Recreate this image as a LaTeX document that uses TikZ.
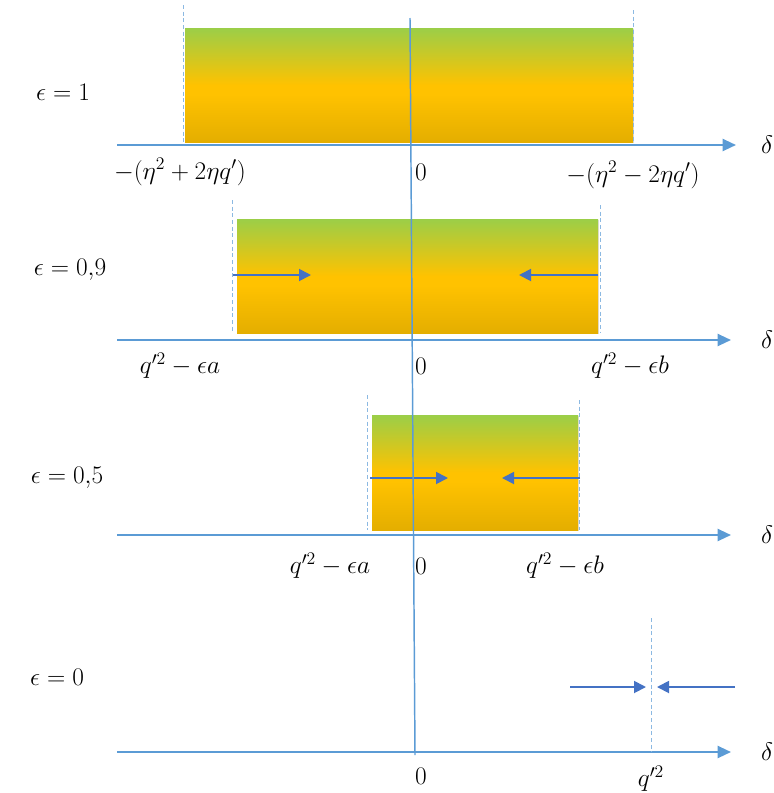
\RequirePackage{fix-cm}
\documentclass[tikz,border=0pt]{standalone}
\usepackage{amsmath}
\usetikzlibrary{arrows.meta, positioning, shadings, shadows}
\definecolor{axblue}{RGB}{91,155,213}
\definecolor{arrblue}{RGB}{68,114,196}
\definecolor{bandgreen}{RGB}{155,206,72}
\definecolor{bandgold}{RGB}{255,194,0}
\definecolor{banddark}{RGB}{228,174,0}
\pgfdeclareverticalshading{bandshade}{100bp}{color(0bp)=(banddark); color(25bp)=(banddark); color(46bp)=(bandgold); color(50bp)=(bandgold); color(75bp)=(bandgreen); color(100bp)=(bandgreen)}

\begin{document}
\begin{tikzpicture}[x=0.75pt, y=-0.75pt,
    axis/.style={-{Triangle[length=10pt, width=9pt]}, line width=1.6pt, axblue},
    band/.style={shading=bandshade, drop shadow={opacity=0.25, shadow xshift=0.8pt, shadow yshift=-0.8pt}},
    guide/.style={densely dashed, axblue!70, line width=0.5pt},
    push/.style={-{Triangle[length=9pt, width=9pt]}, line width=1.4pt, arrblue},
    lab/.style={font=\fontsize{19}{23}\selectfont, inner sep=1pt}
]
\useasboundingbox (0,0) rectangle (774,793);

% epsilon = 1
\path[band] (185,28) rectangle (633,142);
\draw[guide] (183,5) -- (183,142);
\draw[guide] (633,10) -- (633,142);
\coordinate (A1) at (117,145);
\node[lab] (D1) at (767,145) {$\delta$};
\draw[axis] (A1) -- (736,145);
\node[lab] (E1) at (63,92) {$\epsilon = 1$};
\node[lab] (L1) at (180,172) {$-(\eta^2 + 2\eta q')$};
\node[lab] (Z1) at (421,172) {$0$};
\node[lab] (R1) at (633,175) {$-(\eta^2 - 2\eta q')$};

% epsilon = 0,9
\path[band] (237,219) rectangle (598,333);
\draw[guide] (232,200) -- (232,333);
\draw[guide] (600,205) -- (600,333);
\coordinate (A2) at (117,340);
\node[lab] (D2) at (767,340) {$\delta$};
\draw[axis] (A2) -- (731,340);
\node[lab] (E2) at (70,270) {$\epsilon = 0{,}9$};
\node[lab] (L2) at (180,366) {$q'^2 - \epsilon a$};
\node[lab] (Z2) at (421,366) {$0$};
\node[lab] (R2) at (630,366) {$q'^2 - \epsilon b$};
\coordinate (P2a) at (233,275);
\coordinate (P2b) at (311,275);
\coordinate (P2c) at (598,275);
\coordinate (P2d) at (519,275);
\draw[push] (P2a) -- (P2b);
\draw[push] (P2c) -- (P2d);

% epsilon = 0,5
\path[band] (372,415) rectangle (578,530);
\draw[guide] (367,395) -- (367,530);
\draw[guide] (579,400) -- (579,530);
\coordinate (A3) at (117,535);
\node[lab] (D3) at (767,535) {$\delta$};
\draw[axis] (A3) -- (731,535);
\node[lab] (E3) at (67,478) {$\epsilon = 0{,}5$};
\node[lab] (L3) at (330,566) {$q'^2 - \epsilon a$};
\node[lab] (Z3) at (421,566) {$0$};
\node[lab] (R3) at (565,566) {$q'^2 - \epsilon b$};
\coordinate (P3a) at (370,478);
\coordinate (P3b) at (448,478);
\coordinate (P3c) at (580,478);
\coordinate (P3d) at (502,478);
\draw[push] (P3a) -- (P3b);
\draw[push] (P3c) -- (P3d);

% epsilon = 0
\coordinate (A4) at (117,752);
\node[lab] (D4) at (767,752) {$\delta$};
\draw[axis] (A4) -- (731,752);
\node[lab] (E4) at (57,677) {$\epsilon = 0$};
\node[lab] (Z4) at (421,776) {$0$};
\node[lab] (Q4) at (651,779) {$q'^2$};
\draw[guide] (651,618) -- (651,752);
\coordinate (P4a) at (570,687);
\coordinate (P4b) at (646,687);
\coordinate (P4c) at (735,687);
\coordinate (P4d) at (657,687);
\draw[push] (P4a) -- (P4b);
\draw[push] (P4c) -- (P4d);

% zero line
\draw[axblue, line width=1.1pt] (410,18) -- (415,755);
\end{tikzpicture}
\end{document}
